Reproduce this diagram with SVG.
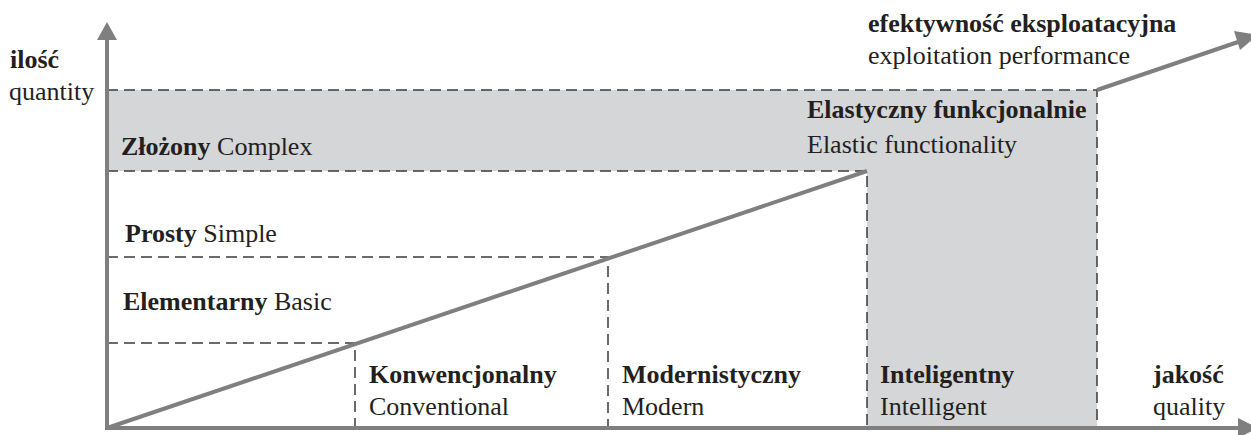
<svg xmlns="http://www.w3.org/2000/svg" width="1251" height="435" viewBox="0 0 1251 435">
<style>
.t{font-family:'Liberation Serif',Tinos,'Times New Roman','DejaVu Serif',serif;font-size:26px;fill:#231f20}
.b{font-weight:bold}
.dash{fill:none;stroke:#3a3a3a;stroke-width:1.5;stroke-dasharray:11 6}
.ax{fill:none;stroke:#7f7f7f;stroke-width:4}
.ah{fill:#7f7f7f}
</style>
<rect width="1251" height="435" fill="#ffffff"/>
<g id="shading">
<polygon points="107,90 1097,90 1097,428 867,428 867,171 107,171" fill="#d5d6d8"/>
</g>
<g id="connectors">
<path class="dash" d="M107,90 H1097 V428"/>
<path class="dash" d="M107,171 H867 V428"/>
<path class="dash" d="M107,257 H608 V428"/>
<path class="dash" d="M107,343 H355 V428"/>
<line class="ax" x1="107" y1="428" x2="867" y2="171" stroke-width="3.5"/>
<line class="ax" x1="1097" y1="90" x2="1238" y2="42" stroke-width="3.5"/>
<polygon class="ah" points="1258,35 1234,31 1240,50"/>
<line class="ax" x1="107" y1="430" x2="107" y2="36"/>
<polygon class="ah" points="107,22 97,40 117,40"/>
<line class="ax" x1="105" y1="428" x2="1240" y2="428"/>
<polygon class="ah" points="1258,428 1238,418 1238,438"/>
</g>
<g id="y-axis-label">
<text class="t b" x="10" y="68">ilość</text>
<text class="t" x="9" y="100">quantity</text>
</g>
<g id="x-axis-label">
<text class="t b" x="1153" y="383">jakość</text>
<text class="t" x="1153" y="415">quality</text>
</g>
<g id="performance-label">
<text class="t b" x="868" y="32">efektywność eksploatacyjna</text>
<text class="t" x="868" y="64">exploitation performance</text>
</g>
<g id="complex">
<text class="t" x="121" y="155"><tspan class="b">Złożony</tspan> Complex</text>
</g>
<g id="simple">
<text class="t" x="125" y="242"><tspan class="b">Prosty</tspan> Simple</text>
</g>
<g id="basic">
<text class="t" x="123" y="310"><tspan class="b">Elementarny</tspan> Basic</text>
</g>
<g id="conventional">
<text class="t b" x="369" y="383">Konwencjonalny</text>
<text class="t" x="369" y="415">Conventional</text>
</g>
<g id="modern">
<text class="t b" x="622" y="383">Modernistyczny</text>
<text class="t" x="622" y="415">Modern</text>
</g>
<g id="intelligent">
<text class="t b" x="880" y="383">Inteligentny</text>
<text class="t" x="880" y="415">Intelligent</text>
</g>
<g id="elastic">
<text class="t b" x="807" y="118">Elastyczny funkcjonalnie</text>
<text class="t" x="807" y="153">Elastic functionality</text>
</g>
</svg>
